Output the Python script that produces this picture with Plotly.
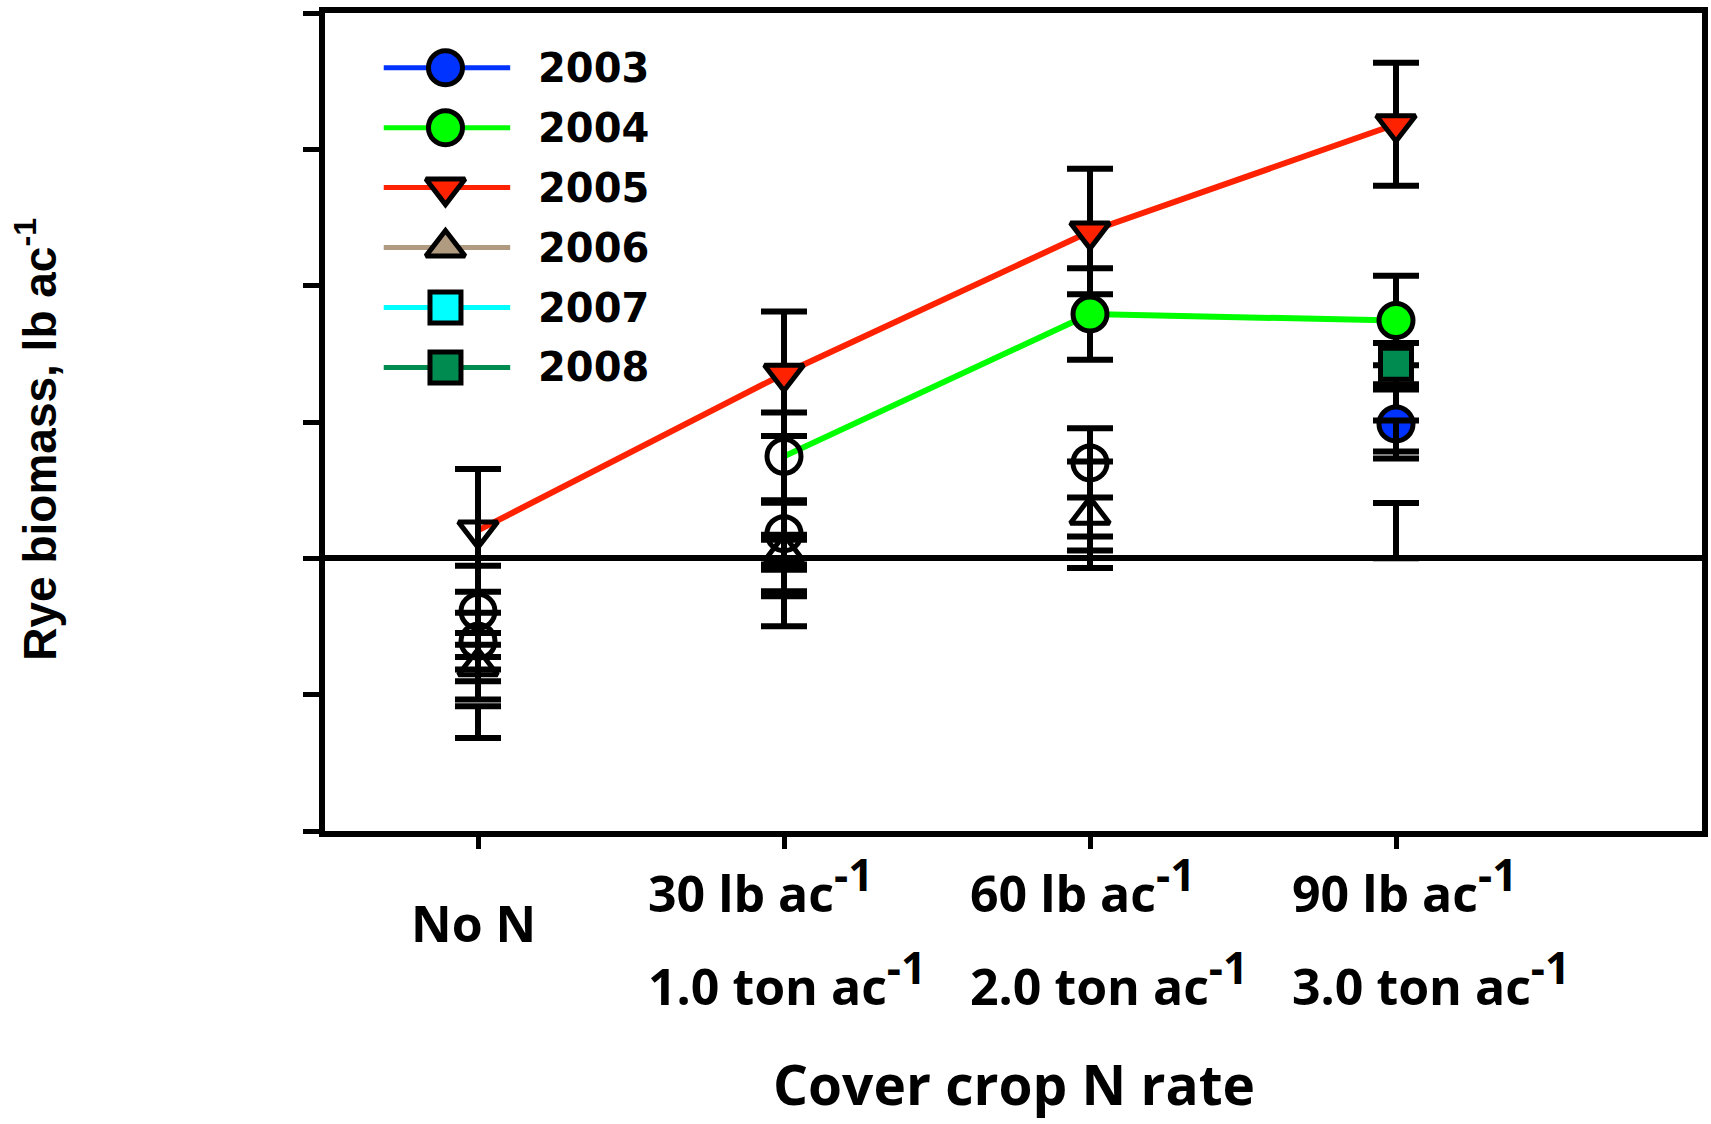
import plotly.graph_objects as go

# ---------------- data ----------------
categories = ["No N", "30", "60", "90"]
line1_main = ["", "30 lb ac", "60 lb ac", "90 lb ac"]
line2_main = ["", "1.0 ton ac", "2.0 ton ac", "3.0 ton ac"]
unit_sup = "-1"
years = ["2003", "2004", "2005", "2006", "2007", "2008"]

y2003 = [-608, 181, 700, 985]
e2003 = [208, 227, 254, 253]
y2004 = [-389, 748, 1792, 1744]
e2004 = [335, 322, 335, 328]
y2005 = [205, 1354, 2397, 3184]
e2005 = [451, 457, 460, 452]
y2006 = [-792, 45, 320, 203]
e2006 = [244, 128, 391, 202]
y2007 = [-767, -181, 109, 897]
e2007 = [134, 318, 52, 114]
y2008 = [-1201, -260, None, 1428]
e2008 = [116, 18, None, 152]

y_ticks = [-2000, -1000, 0, 1000, 2000, 3000, 4000]

# ---------------- styling ----------------
colors = {"2003": "#0033FF", "2004": "#00FF00", "2005": "#FF2200",
          "2006": "#B09A80", "2007": "#00FFFF", "2008": "#008C50"}
symbols = {"2003": "circle", "2004": "circle", "2005": "triangle-down",
           "2006": "triangle-up", "2007": "square", "2008": "square"}
NONE = "rgba(0,0,0,0)"
fills = {
    "2003": [NONE, NONE, NONE, colors["2003"]],
    "2004": [NONE, NONE, colors["2004"], colors["2004"]],
    "2005": [NONE, colors["2005"], colors["2005"], colors["2005"]],
    "2006": [NONE, NONE, NONE, NONE],
    "2007": [NONE, NONE, NONE, NONE],
    "2008": [NONE, NONE, NONE, colors["2008"]],
}
SZ = 34
SQ = 31
sizes = {
    "2003": [SZ] * 4,
    "2004": [SZ] * 4,
    "2005": [SZ] * 4,
    "2006": [SZ, SZ, SZ, 0],
    "2007": [0, 0, 0, 0],
    "2008": [0, 0, 0, SQ],
}
series = {"2003": (y2003, e2003), "2004": (y2004, e2004), "2005": (y2005, e2005),
          "2006": (y2006, e2006), "2007": (y2007, e2007), "2008": (y2008, e2008)}

xpos = list(range(len(categories)))

fig = go.Figure()

fig.add_trace(go.Scatter(x=xpos, y=y2005, mode="lines",
                         line=dict(color=colors["2005"], width=6), showlegend=False, hoverinfo="skip"))
fig.add_trace(go.Scatter(x=xpos[1:], y=y2004[1:], mode="lines",
                         line=dict(color=colors["2004"], width=6), showlegend=False, hoverinfo="skip"))

for yr in years:
    yv, ev = series[yr]
    fig.add_trace(go.Scatter(
        x=xpos, y=yv, mode="markers", name=yr, showlegend=False,
        marker=dict(symbol=symbols[yr], size=sizes[yr], color=fills[yr], opacity=1,
                    line=dict(color="black", width=5)),
        error_y=dict(type="data", array=ev, visible=True, color="black",
                     thickness=6, width=23),
    ))

# ---------------- custom legend (overlay axes) ----------------
PLOT_L, PLOT_R, PLOT_T, PLOT_B = 325, 1708, 13, 831.5
pw, ph = PLOT_R - PLOT_L, PLOT_B - PLOT_T
leg_x0 = (384 - PLOT_L) / pw
leg_x1 = (511 - PLOT_L) / pw
leg_xm = (446 - PLOT_L) / pw
leg_xt = (537 - PLOT_L) / pw
leg_y0 = 67.7
leg_step = 60
for i, yr in enumerate(years):
    yy = 1 - (leg_y0 + leg_step * i - PLOT_T) / ph
    fig.add_trace(go.Scatter(x=[leg_x0, leg_x1], y=[yy, yy], mode="lines",
                             line=dict(color=colors[yr], width=5),
                             xaxis="x2", yaxis="y2", showlegend=False, hoverinfo="skip"))
    fig.add_trace(go.Scatter(x=[leg_xm], y=[yy], mode="markers",
                             marker=dict(symbol=symbols[yr], size=SQ if symbols[yr] == "square" else SZ,
                                         color=colors[yr], opacity=1, line=dict(color="black", width=5)),
                             xaxis="x2", yaxis="y2", showlegend=False, hoverinfo="skip"))
    fig.add_annotation(x=leg_xt, y=yy, xref="x2", yref="y2", text="<b>%s</b>" % yr,
                       showarrow=False, xanchor="left", yanchor="middle",
                       font=dict(family="DejaVu Sans", size=40, color="black"))

# ---------------- category labels ----------------
lab_font = dict(family="Open Sans", size=50, color="black")
sup_html = "<sup><span style='font-size:44px'>%s</span></sup>" % unit_sup
xshift_l = [0, -138, -122, -106]
for i, c in enumerate(categories):
    if i == 0:
        fig.add_annotation(x=xpos[i], y=0, xref="x", yref="paper", text="<b>%s</b>" % c,
                           showarrow=False, xanchor="center", yanchor="middle",
                           xshift=-5, yshift=-(923 - PLOT_B), font=lab_font)
    else:
        fig.add_annotation(x=xpos[i], y=0, xref="x", yref="paper",
                           text="<b>%s%s</b>" % (line1_main[i], sup_html),
                           showarrow=False, xanchor="left", yanchor="middle",
                           xshift=xshift_l[i], yshift=-(886 - PLOT_B), font=lab_font)
        fig.add_annotation(x=xpos[i], y=0, xref="x", yref="paper",
                           text="<b>%s%s</b>" % (line2_main[i], sup_html),
                           showarrow=False, xanchor="left", yanchor="middle",
                           xshift=xshift_l[i], yshift=-(979 - PLOT_B), font=lab_font)

fig.add_annotation(x=0.5, y=0, xref="paper", yref="paper", text="<b>Cover crop N rate</b>",
                   showarrow=False, xanchor="center", yanchor="middle", yshift=-(1084 - PLOT_B),
                   font=dict(family="Open Sans", size=55, color="black"))
fig.add_annotation(x=0, y=(PLOT_B - 440) / ph, xref="paper", yref="paper",
                   text="<b>Rye biomass, lb ac<sup>-1</sup></b>", textangle=-90,
                   showarrow=False, xanchor="center", yanchor="middle", xshift=36 - PLOT_L,
                   font=dict(family="Liberation Sans", size=46, color="black"))

fig.update_layout(
    width=1711, height=1124,
    margin=dict(l=PLOT_L, r=1711 - PLOT_R, t=PLOT_T, b=1124 - PLOT_B, pad=0),
    paper_bgcolor="white", plot_bgcolor="white",
    xaxis=dict(range=[-0.5, 4.0], tickvals=xpos, showticklabels=False,
               ticks="outside", ticklen=12, tickwidth=5, tickcolor="black",
               showline=True, linewidth=6, linecolor="black", mirror=True,
               showgrid=False, zeroline=False),
    yaxis=dict(range=[-2000, 4000], tickvals=y_ticks, showticklabels=False,
               ticks="outside", ticklen=16, tickwidth=5, tickcolor="black",
               showline=True, linewidth=6, linecolor="black", mirror=True,
               showgrid=False, zeroline=True, zerolinewidth=6, zerolinecolor="black"),
    xaxis2=dict(range=[0, 1], overlaying="x", anchor="y2", visible=False),
    yaxis2=dict(range=[0, 1], overlaying="y", anchor="x2", visible=False),
    showlegend=False,
)

fig.write_html("out.html")
